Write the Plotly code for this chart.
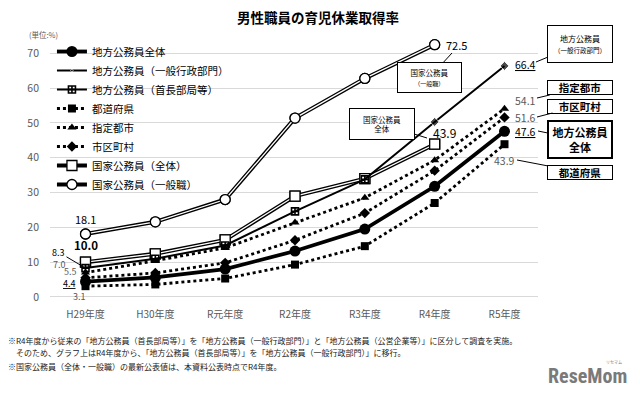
import plotly.graph_objects as go

categories = ["H29年度", "H30年度", "R元年度", "R2年度", "R3年度", "R4年度", "R5年度"]

chiho_all = [4.4, 5.6, 8.0, 13.2, 19.5, 31.8, 47.6]
chiho_gyosei = [None, None, None, None, 33.8, 50.3, 66.4]
chiho_shucho = [8.3, 11.0, 14.8, 24.6, 33.8, None, None]
todofuken = [3.1, 3.6, 5.3, 9.3, 14.6, 27.0, 43.9]
shitei = [7.0, 10.4, 14.1, 21.4, 28.5, 39.3, 54.1]
shiku = [5.5, 6.9, 9.8, 16.3, 24.1, 36.3, 51.6]
kokka_all = [10.0, 12.4, 16.4, 29.0, 34.0, 43.9, None]
kokka_ippan = [18.1, 21.6, 28.0, 51.4, 62.8, 72.5, None]

y_ticks = [0, 10, 20, 30, 40, 50, 60, 70]

FONT = "Noto Sans CJK JP"
GRAY = "#595959"

# page body has an 8px default margin; figure is drawn 8px smaller and offset
OFF = 8
W, H = 640 - OFF, 399 - OFF
# plot area in screen pixels: x 50..538, y 36..298
L, R, T, B = 50, 538, 36, 298


def PX(px):
    return (px - L) / (R - L)


def PY(py):
    return (B - py) / (B - T)


fig = go.Figure()

# 国家公務員（一般職） double line
fig.add_trace(go.Scatter(x=categories, y=kokka_ippan, mode="lines+markers", name="国家公務員（一般職）",
                         legendrank=8,
                         line=dict(color="black", width=4),
                         marker=dict(symbol="circle", size=10, color="white", line=dict(color="black", width=1.3))))
fig.add_trace(go.Scatter(x=categories, y=kokka_ippan, mode="lines+markers", showlegend=False,
                         line=dict(color="white", width=1.3),
                         marker=dict(symbol="circle", size=10, color="white", line=dict(color="black", width=1.3))))
# 国家公務員（全体） double line
fig.add_trace(go.Scatter(x=categories, y=kokka_all, mode="lines+markers", name="国家公務員（全体）",
                         legendrank=7,
                         line=dict(color="black", width=4),
                         marker=dict(symbol="square", size=10, color="white", line=dict(color="black", width=1.3))))
fig.add_trace(go.Scatter(x=categories, y=kokka_all, mode="lines+markers", showlegend=False,
                         line=dict(color="white", width=1.3),
                         marker=dict(symbol="square", size=10, color="white", line=dict(color="black", width=1.3))))

fig.add_trace(go.Scatter(x=categories, y=todofuken, mode="lines+markers", name="都道府県", legendrank=4,
                         line=dict(color="black", width=2.8, dash="dot"),
                         marker=dict(symbol="square", size=8, color="black")))
fig.add_trace(go.Scatter(x=categories, y=shiku, mode="lines+markers", name="市区町村", legendrank=6,
                         line=dict(color="black", width=2.8, dash="dot"),
                         marker=dict(symbol="diamond", size=8, color="black")))
fig.add_trace(go.Scatter(x=categories, y=shitei, mode="lines+markers", name="指定都市", legendrank=5,
                         line=dict(color="black", width=2.8, dash="dot"),
                         marker=dict(symbol="triangle-up", size=8, color="black")))
fig.add_trace(go.Scatter(x=categories, y=chiho_shucho, mode="lines+markers", name="地方公務員（首長部局等）",
                         legendrank=3,
                         line=dict(color="black", width=2),
                         marker=dict(symbol="square-cross-open", size=7, color="black", line=dict(width=1.6))))
fig.add_trace(go.Scatter(x=categories, y=chiho_gyosei, mode="lines+markers", name="地方公務員（一般行政部門）",
                         legendrank=2,
                         line=dict(color="black", width=2),
                         marker=dict(symbol="diamond", size=[0, 0, 0, 0, 0, 7, 7], color="black")))
fig.add_trace(go.Scatter(x=categories, y=chiho_all, mode="lines+markers", name="地方公務員全体", legendrank=1,
                         line=dict(color="black", width=3.8),
                         marker=dict(symbol="circle", size=11, color="black")))

annotations = []


def val(x, y, text, xs=0, ys=0, color="black", size=10.5):
    annotations.append(dict(x=x, y=y, xref="x", yref="y", text=text, showarrow=False,
                            xshift=xs, yshift=ys, font=dict(size=size, color=color, family=FONT)))


# H29 labels
val(categories[0], kokka_ippan[0], "18.1", 0, 15, "black", 11)
val(categories[0], kokka_all[0], "<b>10.0</b>", 0, 17, "black", 11.5)
annotations.append(dict(x=categories[0], y=chiho_shucho[0], xref="x", yref="y", text="8.3",
                        showarrow=True, arrowhead=0, arrowwidth=1, arrowcolor="black",
                        ax=-27, ay=-16, standoff=2, font=dict(size=9, color="black", family=FONT)))
val(categories[0], shitei[0], "7.0", -26, 8, GRAY, 9)
val(categories[0], shiku[0], "5.5", -15, 6, GRAY, 9)
val(categories[0], chiho_all[0], "<u>4.4</u>", -16, -2, "black", 9)
val(categories[0], todofuken[0], "3.1", -6, -10, GRAY, 9)

# R4 labels (national)
val(categories[5], kokka_ippan[5], "72.5", 22, 0, "black", 11)
val(categories[5], kokka_all[5], "43.9", 10, 12, "black", 12)

# R5 labels
val(categories[6], chiho_gyosei[6], "<u>66.4</u>", 21, 1, "black")
val(categories[6], shitei[6], "54.1", 21, 8, GRAY)
val(categories[6], shiku[6], "51.6", 21, 0, GRAY)
val(categories[6], chiho_all[6], "<u>47.6</u>", 21, 0, "black")
val(categories[6], todofuken[6], "43.9", 0, -16, GRAY)


def callout(cx, cy, w, h, text, tx, ty, size, bw=1):
    annotations.append(dict(x=PX(tx), y=PY(ty), xref="paper", yref="paper", text=text,
                            showarrow=True, arrowhead=0, arrowwidth=1, arrowcolor="black",
                            ax=cx - tx, ay=cy - ty, width=w, height=h, borderpad=1,
                            bordercolor="black", borderwidth=bw, bgcolor="white",
                            align="center", valign="middle",
                            font=dict(size=size, color="black", family=FONT)))


callout(429.5, 77.5, 61, 27, "国家公務員<br><span style='font-size:6px'>（一般職）</span>", 452, 53, 7.5)
callout(382, 124, 62, 28, "国家公務員<br>全体", 427, 138, 7.5)
callout(579.5, 44, 62, 34, "地方公務員<br><span style='font-size:6.5px'>（一般行政部門）</span>", 536, 62, 8)
callout(579.5, 88, 62, 11, "<b>指定都市</b>", 537, 98, 10.5)
callout(579.5, 106, 62, 11, "<b>市区町村</b>", 537, 117, 10.5)
callout(579.5, 139.5, 60, 33, "<b>地方公務員<br>全体</b>", 538, 131, 11, 2)
callout(579.5, 172, 62, 11, "<b>都道府県</b>", 517, 160, 10.5)

# unit
annotations.append(dict(x=PX(27), y=PY(34), xref="paper", yref="paper", text="(単位:%)", showarrow=False,
                        xanchor="left", yanchor="middle", font=dict(size=7.5, color=GRAY, family=FONT)))

# footnotes
notes = [
    ("※R4年度から従来の「地方公務員（首長部局等）」を「地方公務員（一般行政部門）」と「地方公務員（公営企業等）」に区分して調査を実施。", 340),
    ("　そのため、グラフ上はR4年度から、「地方公務員（首長部局等）」を「地方公務員（一般行政部門）」に移行。", 352),
    ("※国家公務員（全体・一般職）の最新公表値は、本資料公表時点でR4年度。", 366),
]
for t, py in notes:
    annotations.append(dict(x=PX(6), y=PY(py), xref="paper", yref="paper", text=t, showarrow=False,
                            xanchor="left", yanchor="middle", font=dict(size=8, color="#222222", family=FONT)))

# logo
annotations.append(dict(x=PX(587), y=PY(376), xref="paper", yref="paper", text="<b>ReseMom</b>", showarrow=False,
                        xanchor="center", yanchor="middle", font=dict(size=20, color="#7a7a7a", family="Roboto Condensed, Roboto")))
annotations.append(dict(x=PX(614), y=PY(362), xref="paper", yref="paper", text="リセマム", showarrow=False,
                        xanchor="center", yanchor="middle", font=dict(size=4, color="#7a7a7a", family=FONT)))

fig.update_layout(
    width=W, height=H,
    margin=dict(l=L - OFF, r=W - (R - OFF), t=T - OFF, b=H - (B - OFF)),
    paper_bgcolor="white", plot_bgcolor="white",
    font=dict(family=FONT, color="black"),
    title=dict(text="<b>男性職員の育児休業取得率</b>", x=(318 - OFF) / W, xanchor="center",
               y=1 - (18 - OFF) / H, yanchor="middle",
               font=dict(size=13.5, color="black", family=FONT)),
    xaxis=dict(categoryorder="array", categoryarray=categories, showgrid=False, zeroline=False, showline=False,
               ticks="", ticklabelstandoff=9, tickfont=dict(size=10, color=GRAY, family=FONT)),
    yaxis=dict(range=[-0.3, 75], tickvals=y_ticks, showgrid=True, gridcolor="#d9d9d9", gridwidth=1,
               zeroline=False, showline=False, ticks="", ticklabelstandoff=10,
               tickfont=dict(size=10.5, color=GRAY, family=FONT)),
    legend=dict(x=0.004, y=PY(37), xanchor="left", yanchor="top", bgcolor="rgba(0,0,0,0)",
                traceorder="normal", font=dict(size=10.5, color="black", family=FONT),
                itemwidth=30, tracegroupgap=0),
    annotations=annotations,
    showlegend=True,
)

fig.write_html("out.html")
